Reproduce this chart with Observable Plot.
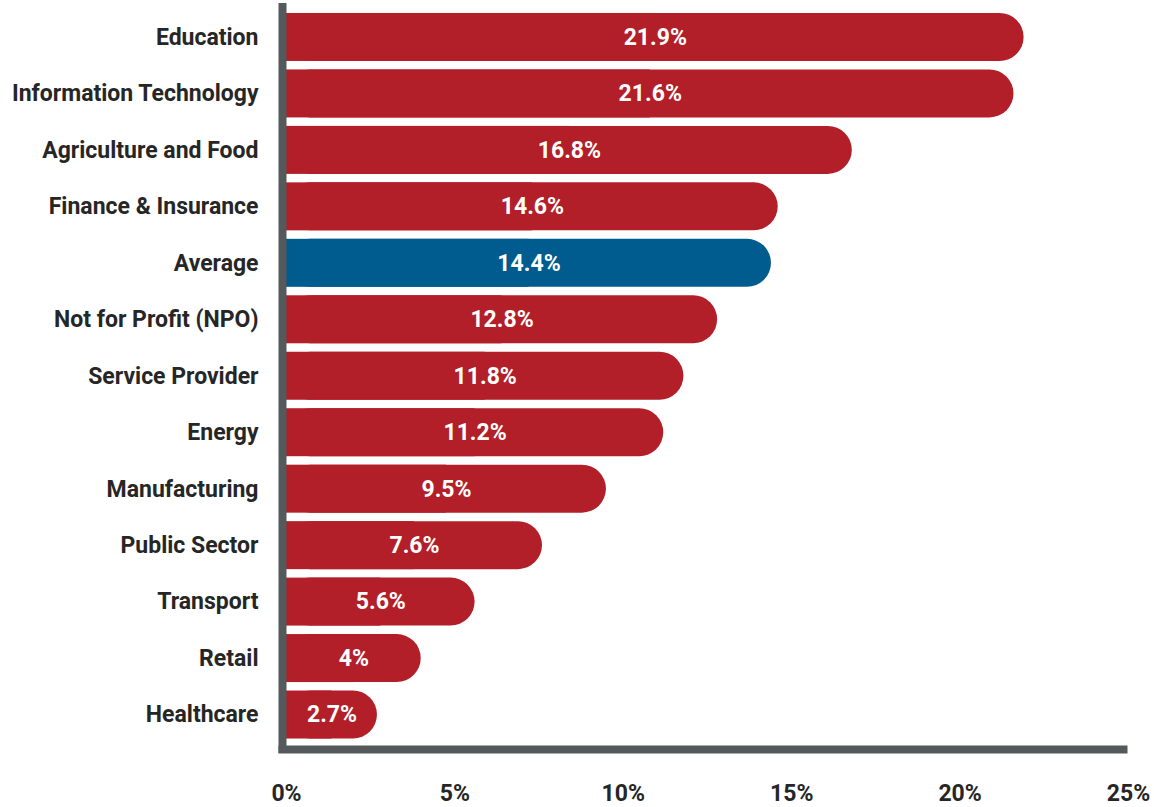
<!DOCTYPE html>
<html>
<head>
<meta charset="utf-8">
<script src="https://cdn.jsdelivr.net/npm/d3@7"></script>
<script src="https://cdn.jsdelivr.net/npm/@observablehq/plot@0.6"></script>
<style>
  html, body { margin: 0; padding: 0; background: #fff; }
  #chart { width: 1154px; height: 807px; }
  svg { font-family: Roboto, "Noto Sans", sans-serif; }
</style>
</head>
<body>
<div id="chart"></div>
<script>
// Share by sector (%), top to bottom
const sectors = [
  "Education", "Information Technology", "Agriculture and Food", "Finance & Insurance",
  "Average", "Not for Profit (NPO)", "Service Provider", "Energy", "Manufacturing",
  "Public Sector", "Transport", "Retail", "Healthcare"
];
const shares = [21.9, 21.6, 16.8, 14.6, 14.4, 12.8, 11.8, 11.2, 9.5, 7.6, 5.6, 4, 2.7];
const xTicks = [0, 5, 10, 15, 20, 25];
const highlight = "Average";

const red = "#b31f28";
const blue = "#005b8f";
const axisGray = "#54595c";
const ink = "#262626";
const labelSize = 23;

const rows = sectors.map((sector, i) => ({sector, value: shares[i]}));
const fill = d => d.sector === highlight ? blue : red;

const chart = Plot.plot({
  width: 1154,
  height: 807,
  marginLeft: 286,
  marginRight: 26,
  marginTop: 4.5,
  marginBottom: 60,
  style: {fontFamily: "Roboto, 'Noto Sans', sans-serif", fontWeight: 700},
  x: {domain: [0, 25], label: null},
  y: {domain: sectors, padding: 0.15, round: false, label: null},
  marks: [
    // rounded bars, then a square block over the left half so only the right end is rounded
    Plot.barX(rows, {x: "value", y: "sector", fill, rx: 24}),
    Plot.barX(rows, {x1: 0, x2: d => d.value / 2, y: "sector", fill}),
    Plot.text(rows, {
      x: d => d.value / 2, y: "sector", text: d => `${d.value}%`,
      fill: "white", fontSize: labelSize, fontWeight: 700
    }),
    // thick axis lines
    Plot.ruleX([0], {dx: -4, stroke: axisGray, strokeWidth: 8, insetTop: -1.5, insetBottom: -6}),
    Plot.frame({anchor: "bottom", stroke: axisGray, strokeWidth: 8, strokeLinecap: "butt",
      dy: 2, insetLeft: -8, insetRight: 1}),
    Plot.axisY({tickSize: 0, tickPadding: 28, fontSize: labelSize, fontWeight: 700, color: ink, label: null}),
    Plot.axisX({ticks: xTicks, tickFormat: d => `${d}%`, tickSize: 0, tickPadding: 37,
      fontSize: labelSize, fontWeight: 700, color: ink, label: null})
  ]
});
document.getElementById("chart").append(chart);
</script>
</body>
</html>
